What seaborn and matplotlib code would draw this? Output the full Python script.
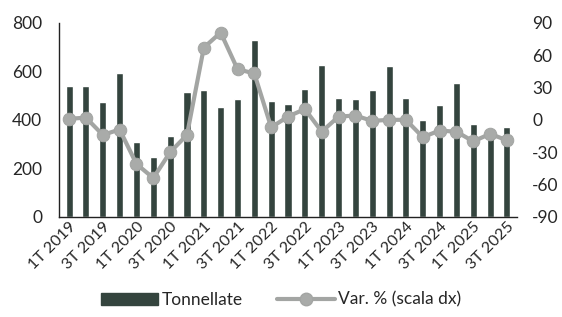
import matplotlib
matplotlib.use("Agg")
import matplotlib.pyplot as plt
import seaborn as sns
import numpy as np
import pandas as pd
from matplotlib.lines import Line2D
from matplotlib.patches import Patch

quarters = [f"{q}T {y}" for y in range(2019, 2026) for q in (1, 2, 3, 4)][:27]
tonnellate = [539, 539, 472, 595, 309, 247, 333, 513, 521, 451, 485, 730, 478, 466,
              529, 628, 491, 485, 521, 623, 488, 399, 463, 553, 384, 345, 371]
var_pct = [1, 2, -14, -9, -41, -54, -30, -14, 67, 81, 47, 43, -7, 3,
           10, -11, 3, 4, -1, 0, 0, -16, -10, -11, -20, -13, -19]
tick_labels = quarters[::2]

sns.set_theme(style="white")
plt.rcParams['font.family'] = ['Lato', 'DejaVu Sans']
plt.rcParams['axes.unicode_minus'] = False

df = pd.DataFrame({"q": quarters, "t": tonnellate, "v": var_pct})

fig = plt.figure(figsize=(5.62, 3.17), dpi=100)
ax = fig.add_axes([0.105, 0.316, 0.815, 0.612])

bar_color = "#34443e"
line_color = "#a3a5a3"

sns.barplot(data=df, x="q", y="t", color=bar_color, width=0.42, ax=ax, saturation=1)
ax.set_ylim(0, 800)
ax.set_yticks([0, 200, 400, 600, 800])
ax.set_xlim(-0.6, 26.6)
ax.set_xlabel("")
ax.set_ylabel("")
ax.set_xticks(range(0, 27, 2))
ax.set_xticklabels(tick_labels, rotation=45, ha="right", rotation_mode="anchor", fontsize=11.5)
ax.tick_params(axis="y", labelsize=12.5, length=0, pad=12)
ax.tick_params(axis="x", length=0, pad=2)
for s in ["top", "right"]:
    ax.spines[s].set_visible(False)
for s in ["left", "bottom"]:
    ax.spines[s].set_color("#222222")
    ax.spines[s].set_linewidth(1.0)

ax2 = ax.twinx()
sns.lineplot(x=np.arange(27), y=df["v"], ax=ax2, color=line_color, linewidth=3,
             marker="o", markersize=9, markeredgecolor=line_color, markerfacecolor="#a9aba9")
ax2.set_ylim(-90, 90)
ax2.set_yticks([-90, -60, -30, 0, 30, 60, 90])
ax2.set_ylabel("")
ax2.tick_params(axis="y", labelsize=12.5, length=0, pad=11)
for s in ["top", "right", "left", "bottom"]:
    ax2.spines[s].set_visible(False)

handles = [Patch(facecolor=bar_color, edgecolor=bar_color),
           Line2D([0], [0], color=line_color, linewidth=3, marker="o", markersize=9,
                  markerfacecolor="#a9aba9", markeredgecolor=line_color)]
fig.legend(handles, ["Tonnellate", "Var. % (scala dx)"], loc="lower center",
           bbox_to_anchor=(0.5, -0.02), ncol=2, frameon=False, fontsize=12.5,
           handlelength=3.3, handletextpad=0.2, columnspacing=2.0)

fig.savefig("out.png", dpi=100)
